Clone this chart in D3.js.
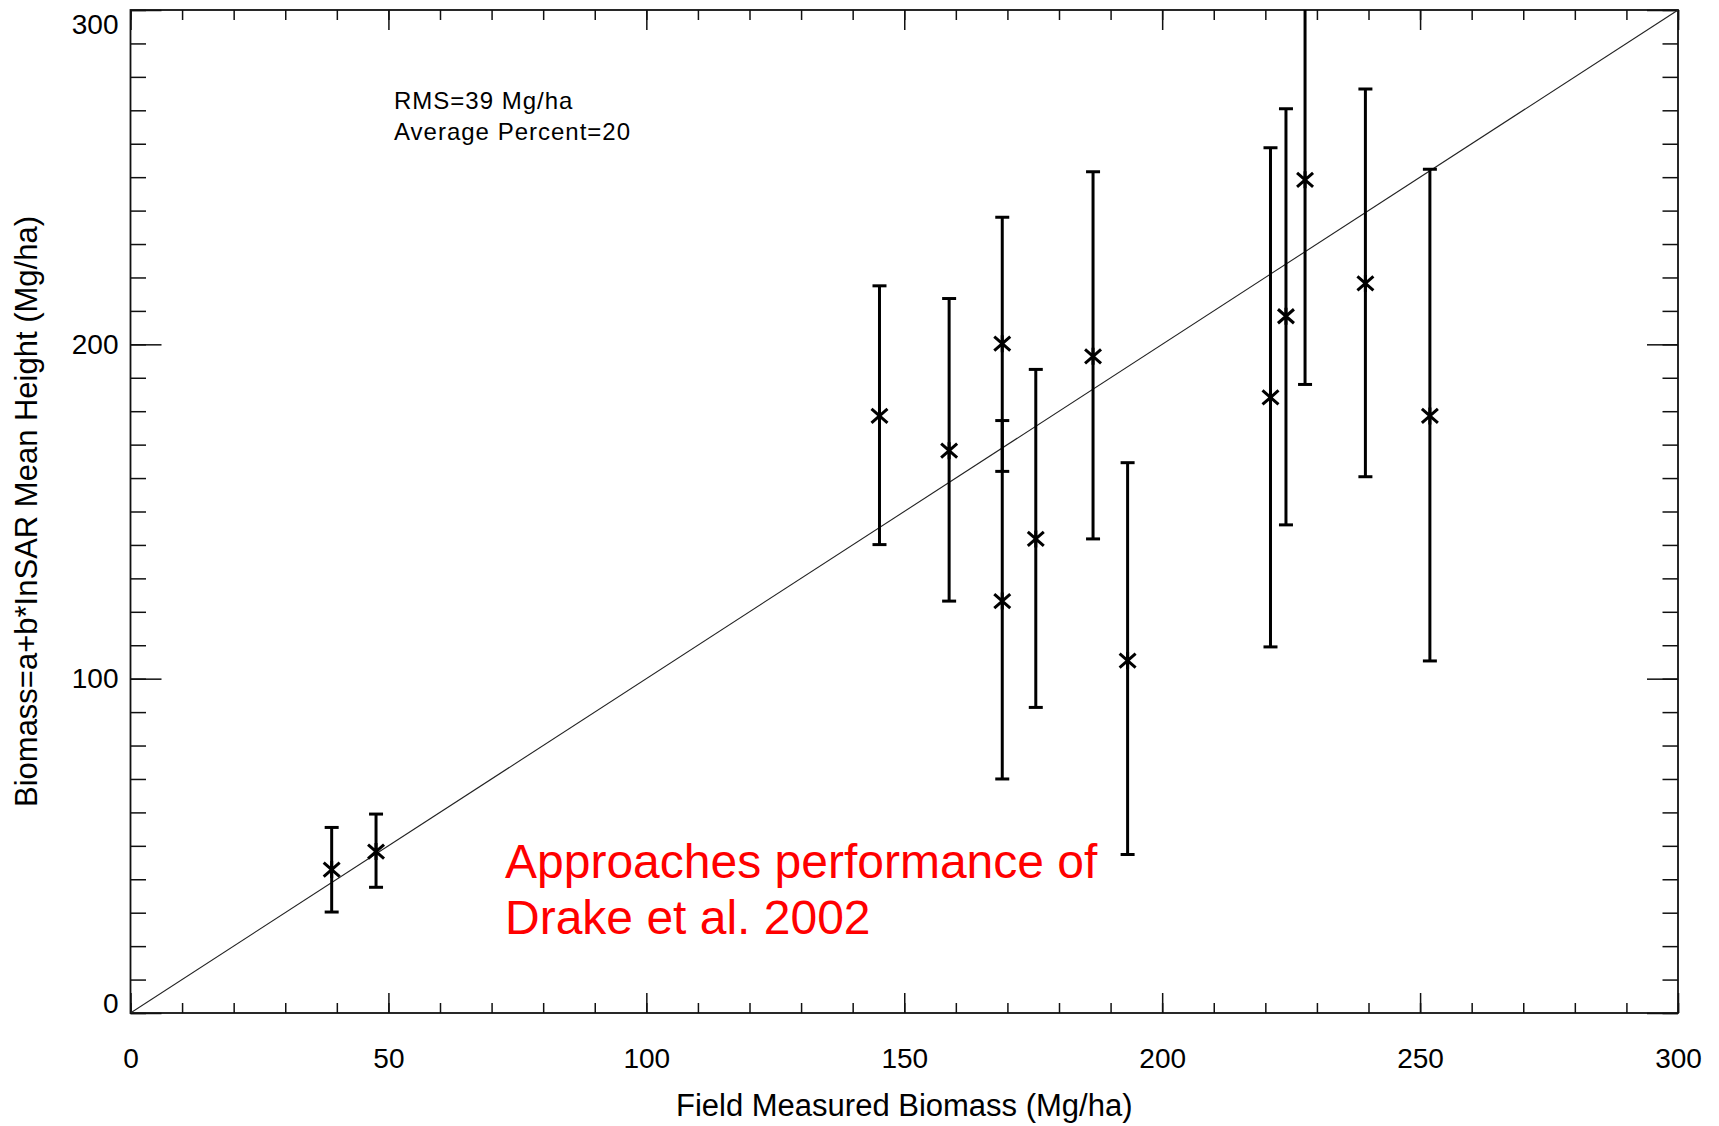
<!DOCTYPE html>
<html>
<head>
<meta charset="utf-8">
<script src="https://cdn.jsdelivr.net/npm/d3@7"></script>
<style>
  body { margin: 0; background: #fff; }
  text { font-family: "Liberation Sans", Arial, Helvetica, sans-serif; fill: #000; }
</style>
</head>
<body>
<svg id="chart"></svg>
<script>
//data (Mg/ha)
const fieldBiomass = [39.0, 47.6, 145.2, 158.7, 169.0, 169.0, 175.5, 186.6, 193.3, 221.0, 224.0, 227.7, 239.4, 251.9];
const insarBiomass = [42.9, 48.3, 178.6, 168.2, 200.2, 123.2, 141.8, 196.4, 105.4, 184.1, 208.4, 249.2, 218.2, 178.6];
const errLow  = [30.2, 37.6, 140.1, 123.2, 162.0, 70.0, 91.4, 141.8, 47.4, 109.5, 146.0, 188.0, 160.4, 105.3];
const errHigh = [55.5, 59.5, 217.5, 213.7, 238.0, 177.2, 192.5, 251.6, 164.6, 258.8, 270.5, 310.4, 276.4, 252.4];

const xTicks = [0, 50, 100, 150, 200, 250, 300];
const yTicks = [0, 100, 200, 300];
const statLines = ["RMS=39 Mg/ha", "Average Percent=20"];
const noteLines = ["Approaches performance of", "Drake et al. 2002"];

//svg size and plot box
const width = 1719, height = 1126;
const box = { left: 130.5, right: 1678, top: 10, bottom: 1013 };

const svg = d3.select("#chart")
    .attr("width", width)
    .attr("height", height);

const x = d3.scaleLinear().domain([0, 300]).range([box.left, box.right]);
const y = d3.scaleLinear().domain([0, 300]).range([box.bottom, box.top]);

const minorX = d3.range(0, 301, 10);
const minorY = d3.range(0, 301, 10);

//axes with inward ticks on all four sides
function styleAxis(g) {
    g.select(".domain").remove();
    g.selectAll("line").attr("stroke", "#111").attr("stroke-width", 1.5);
}

//bottom
svg.append("g").attr("transform", `translate(0,${box.bottom})`)
    .call(d3.axisBottom(x).tickValues(minorX).tickSizeInner(-10).tickSizeOuter(0).tickFormat(""))
    .call(styleAxis);
svg.append("g").attr("transform", `translate(0,${box.bottom})`)
    .call(d3.axisBottom(x).tickValues(xTicks).tickSizeInner(-20).tickSizeOuter(0).tickPadding(35))
    .call(styleAxis)
    .call(g => g.attr("font-family", null).attr("font-size", null))
    .call(g => g.selectAll("text").style("font-size", "28px"));
//top
svg.append("g").attr("transform", `translate(0,${box.top})`)
    .call(d3.axisTop(x).tickValues(minorX).tickSizeInner(-10).tickSizeOuter(0).tickFormat(""))
    .call(styleAxis);
svg.append("g").attr("transform", `translate(0,${box.top})`)
    .call(d3.axisTop(x).tickValues(xTicks).tickSizeInner(-20).tickSizeOuter(0).tickFormat(""))
    .call(styleAxis);
//left
svg.append("g").attr("transform", `translate(${box.left},0)`)
    .call(d3.axisLeft(y).tickValues(minorY).tickSizeInner(-15.5).tickSizeOuter(0).tickFormat(""))
    .call(styleAxis);
svg.append("g").attr("transform", `translate(${box.left},0)`)
    .call(d3.axisLeft(y).tickValues(yTicks).tickSizeInner(-31).tickSizeOuter(0).tickPadding(12))
    .call(styleAxis)
    .call(g => g.attr("font-family", null).attr("font-size", null))
    .call(g => g.selectAll("text")
        .style("font-size", "28px")
        //keep the end labels inside the frame like the original
        .attr("y", d => d === 0 ? -9 : (d === 300 ? 15 : 0)));
//right
svg.append("g").attr("transform", `translate(${box.right},0)`)
    .call(d3.axisRight(y).tickValues(minorY).tickSizeInner(-15.5).tickSizeOuter(0).tickFormat(""))
    .call(styleAxis);
svg.append("g").attr("transform", `translate(${box.right},0)`)
    .call(d3.axisRight(y).tickValues(yTicks).tickSizeInner(-31).tickSizeOuter(0).tickFormat(""))
    .call(styleAxis);

//frame
svg.append("rect")
    .attr("x", box.left).attr("y", box.top)
    .attr("width", box.right - box.left).attr("height", box.bottom - box.top)
    .attr("fill", "none")
    .attr("stroke", "#111")
    .attr("stroke-width", 1.8);

//clip for marks
svg.append("clipPath").attr("id", "plot-clip")
    .append("rect")
    .attr("x", box.left).attr("y", box.top)
    .attr("width", box.right - box.left).attr("height", box.bottom - box.top);

const plot = svg.append("g").attr("clip-path", "url(#plot-clip)");

//1:1 line
plot.append("path")
    .datum([0, 300])
    .attr("d", d3.line().x(d => x(d)).y(d => y(d)))
    .attr("stroke", "#222")
    .attr("stroke-width", 1.1)
    .attr("fill", "none");

const points = fieldBiomass.map((f, i) => ({
    f: f, v: insarBiomass[i], lo: errLow[i], hi: errHigh[i]
}));

//error bars
const capW = 7;
const bars = plot.selectAll(".err")
    .data(points)
    .join("g")
    .attr("class", "err")
    .attr("stroke", "#000")
    .attr("stroke-width", 3);

bars.append("line")
    .attr("x1", d => x(d.f)).attr("x2", d => x(d.f))
    .attr("y1", d => y(d.lo)).attr("y2", d => y(d.hi));
bars.append("line")
    .attr("x1", d => x(d.f) - capW).attr("x2", d => x(d.f) + capW)
    .attr("y1", d => y(d.lo)).attr("y2", d => y(d.lo));
bars.append("line")
    .attr("x1", d => x(d.f) - capW).attr("x2", d => x(d.f) + capW)
    .attr("y1", d => y(d.hi)).attr("y2", d => y(d.hi));

//asterisk markers (vertical + two diagonals)
const star = "M0,-8.5L0,8.5M-8,-7L8,7M-8,7L8,-7";
plot.selectAll(".star")
    .data(points)
    .join("path")
    .attr("class", "star")
    .attr("transform", d => `translate(${x(d.f)},${y(d.v)})`)
    .attr("d", star)
    .attr("stroke", "#000")
    .attr("stroke-width", 3)
    .attr("fill", "none");

//stats text
svg.append("g").selectAll("text")
    .data(statLines)
    .join("text")
    .attr("x", 394)
    .attr("y", (d, i) => 109 + i * 31)
    .style("font-size", "24px")
    .style("letter-spacing", "1px")
    .text(d => d);

//red note
svg.append("g").selectAll("text")
    .data(noteLines)
    .join("text")
    .attr("x", 505)
    .attr("y", (d, i) => 878 + i * 56)
    .style("font-size", "48px")
    .style("fill", "#ff0000")
    .text(d => d);

//axis titles
svg.append("text")
    .attr("x", (box.left + box.right) / 2)
    .attr("y", 1116)
    .attr("text-anchor", "middle")
    .style("font-size", "31px")
    .text("Field Measured Biomass (Mg/ha)");

svg.append("text")
    .attr("transform", `translate(37,${(box.top + box.bottom) / 2}) rotate(-90)`)
    .attr("text-anchor", "middle")
    .style("font-size", "31px")
    .text("Biomass=a+b*InSAR Mean Height (Mg/ha)");
</script>
</body>
</html>
